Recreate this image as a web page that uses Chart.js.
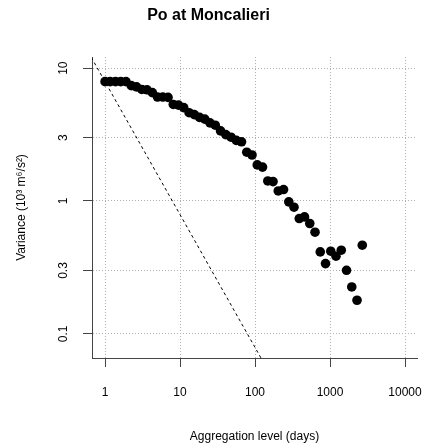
<!DOCTYPE html>
<html>
<head>
<meta charset="utf-8">
<script src="https://cdn.jsdelivr.net/npm/chart.js@4/dist/chart.umd.min.js"></script>
<style>
  html, body { margin: 0; padding: 0; background: #fff; }
  canvas { display: block; }
</style>
</head>
<body>
<canvas id="canvas" width="424" height="445"></canvas>
<script>
  // aggregation level (days)
  const aggLevels = [1, 1.17, 1.38, 1.62, 1.9, 2.24, 2.63, 3.09, 3.63, 4.27,
    5.01, 5.89, 6.92, 8.13, 9.55, 11.2, 13.2, 15.5, 18.2, 21.4,
    25.1, 29.5, 34.7, 40.7, 47.9, 56.2, 66.1, 77.6, 91.2, 107,
    126, 148, 174, 204, 240, 282, 331, 389, 457, 537,
    631, 741, 871, 1023, 1202, 1413, 1660, 1950, 2291, 2692];

  // variance (10^3 m^6/s^2)
  const variance = [7.91, 7.91, 7.91, 7.91, 7.91, 7.38, 7.23, 6.91, 6.87, 6.54,
    6.06, 6.06, 6.02, 5.33, 5.27, 5.04, 4.62, 4.47, 4.26, 4.13,
    3.87, 3.72, 3.37, 3.16, 3.02, 2.86, 2.79, 2.33, 2.22, 1.87,
    1.80, 1.415, 1.40, 1.19, 1.22, 0.985, 0.898, 0.738, 0.759, 0.677,
    0.582, 0.414, 0.338, 0.419, 0.384, 0.426, 0.301, 0.2255, 0.179, 0.465];

  // slope -1 reference line
  const refX = [0.5, 1000];
  const refY = [15.8, 0.0079];

  const xTicks = [1, 10, 100, 1000, 10000];
  const yTicks = [0.1, 0.3, 1, 3, 10];
  const FONT = "'Liberation Sans', Arial, Helvetica, sans-serif";

  const ctx = document.getElementById('canvas').getContext('2d');
  const myChart = new Chart(ctx, {
    type: 'scatter',
    data: {
      datasets: [{
        data: aggLevels.map((x, i) => ({ x: x, y: variance[i] })),
        backgroundColor: '#000', borderWidth: 0, pointRadius: 4.8
      },
      {
        data: refX.map((x, i) => ({ x: x, y: refY[i] })),
        showLine: true, borderColor: '#000', borderWidth: 1, borderDash: [3, 3], pointRadius: 0
      }]
    },
    options: {
      responsive: false,
      animation: false,
      devicePixelRatio: 1,
      layout: { padding: { left: 0, right: 7, top: 0, bottom: 0 } },
      plugins: {
        legend: { display: false },
        tooltip: { enabled: false },
        title: {
          display: true, text: 'Po at Moncalieri', color: '#000',
          font: { family: FONT, size: 16, weight: 'bold', lineHeight: 1.2 },
          padding: { top: 6, bottom: 31.8 }
        }
      },
      scales: {
        x: {
          type: 'logarithmic', min: 0.67, max: 14450,
          afterBuildTicks: (scale) => { scale.ticks = xTicks.map(v => ({ value: v })); },
          afterFit: (scale) => { scale.height = 87; scale.paddingLeft = 0; scale.paddingRight = 0; },
          // border.dash dashes the grid lines in v4; the axis line itself stays solid
          border: { display: true, color: '#444', width: 1, dash: [1, 2] },
          grid: { color: '#b0b0b0', tickColor: '#444', tickLength: 9, lineWidth: 1 },
          ticks: { autoSkip: false, maxRotation: 0, padding: 18, color: '#000', font: { family: FONT, size: 12 }, callback: (v) => String(v) },
          title: { display: true, text: 'Aggregation level (days)', color: '#000', font: { family: FONT, size: 12, lineHeight: 1.2 }, padding: { top: 0, bottom: 1 } }
        },
        y: {
          type: 'logarithmic', min: 0.0658, max: 12.13,
          afterBuildTicks: (scale) => { scale.ticks = yTicks.map(v => ({ value: v })); },
          afterFit: (scale) => { scale.width = 92; scale.paddingTop = 0; scale.paddingBottom = 0; },
          border: { display: true, color: '#444', width: 1, dash: [1, 2] },
          grid: { color: '#b0b0b0', tickColor: '#444', tickLength: 9, lineWidth: 1 },
          ticks: { autoSkip: false, minRotation: 90, maxRotation: 90, crossAlign: 'center', padding: 10.7, color: '#000', font: { family: FONT, size: 12 }, callback: (v) => String(v) },
          title: { display: true, text: 'Variance (10³ m⁶/s²)', color: '#000', font: { family: FONT, size: 12, lineHeight: 1.2 }, padding: { top: 14.8, bottom: 0 } }
        }
      }
    }
  });
</script>
</body>
</html>
